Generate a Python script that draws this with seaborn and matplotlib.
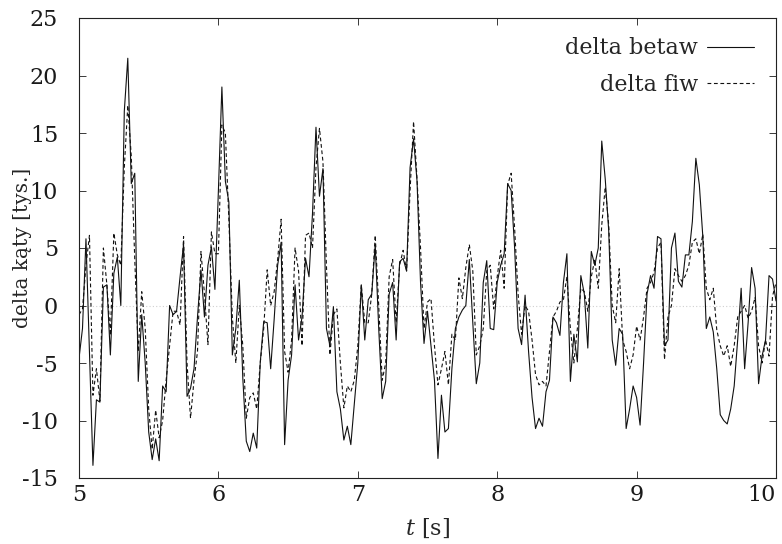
import numpy as np
import pandas as pd
import matplotlib
matplotlib.use("Agg")
import matplotlib.pyplot as plt
import seaborn as sns
from matplotlib.lines import Line2D

# time axis: 5 s .. 10 s sampled every 0.025 s
t = np.linspace(5.0, 10.0, 201)

delta_betaw = [
    -4.6, -2.0, 5.8, -4.0, -13.9, -8.2, -8.4, 1.6, 1.8, -4.3,
    2.8, 4.2, 0.0, 16.9, 21.5, 10.6, 11.5, -6.6, -0.8, -5.0,
    -11.0, -13.4, -11.6, -13.5, -7.0, -7.5, 0.0, -0.8, -0.5, 2.5,
    5.3, -7.9, -7.2, -5.5, -1.0, 3.1, -1.0, 3.5, 5.1, 1.4,
    10.0, 19.0, 10.8, 9.0, -4.3, -2.0, 2.2, -6.3, -11.8, -12.7,
    -11.1, -12.4, -5.0, -1.4, -1.5, -5.5, -1.2, 3.5, 5.5, -12.1,
    -6.5, -4.3, 1.8, -3.0, -1.0, 4.1, 2.5, 8.0, 15.5, 9.5,
    11.9, -2.0, -3.5, -0.1, -7.5, -9.0, -11.7, -10.5, -12.1, -8.5,
    -5.0, 1.8, -3.0, 0.5, 1.0, 5.3, -2.0, -8.1, -6.6, 1.0,
    2.0, -3.0, 3.8, 4.1, 3.0, 12.0, 14.5, 10.8, 2.0, -3.3,
    -0.5, -3.5, -6.5, -13.3, -7.8, -11.0, -10.7, -5.5, -2.0, -1.0,
    -0.4, 0.0, 4.0, -1.5, -6.8, -5.0, 2.0, 3.9, -2.0, -2.1,
    2.0, 3.5, 4.5, 10.6, 10.0, 5.0, -2.0, -3.4, 0.9, -4.0,
    -8.0, -10.7, -9.8, -10.5, -7.5, -6.5, -1.0, -1.5, -2.6, 2.0,
    4.5, -6.6, -2.5, -4.9, 2.6, 1.0, -3.7, 4.7, 3.5, 5.0,
    14.3, 11.0, 6.5, -3.0, -5.2, -2.0, -2.5, -10.7, -9.0, -7.0,
    -8.0, -10.4, -5.0, 1.0, 2.6, 1.5, 6.0, 5.8, -3.5, -3.0,
    5.0, 6.3, 2.1, 1.6, 4.4, 4.4, 7.3, 12.8, 10.5, 6.0,
    -2.0, -1.0, -2.3, -5.5, -9.5, -10.0, -10.3, -9.0, -7.0, -3.0,
    1.5, -5.5, -1.5, 3.3, 1.5, -6.8, -4.4, -3.0, 2.6, 2.3,
    0.4,
]

delta_fiw = [
    -0.8, -0.3, 3.5, 6.1, -7.8, -5.5, -8.3, 5.0, 1.8, -2.6,
    6.3, 4.4, 3.5, 12.0, 17.4, 13.0, 4.0, -4.0, 1.2, -2.0,
    -9.0, -12.5, -9.1, -11.5, -10.0, -6.5, -3.5, -0.5, -0.5, -1.7,
    6.0, -5.0, -9.8, -6.5, -4.0, 4.7, 1.0, -3.4, 6.4, 4.5,
    4.5, 15.7, 15.0, 7.5, -1.0, -5.0, 0.0, -3.5, -9.8, -8.0,
    -7.6, -9.0, -5.0, -2.0, 3.1, 0.0, 1.2, 4.0, 7.5, -4.0,
    -5.8, -3.0, 5.0, 3.0, -3.5, 6.1, 6.3, 5.0, 12.0, 15.4,
    12.5, 3.5, -4.3, -0.8, -0.3, -5.0, -8.9, -7.0, -7.5, -6.5,
    -3.5, 1.8, -1.5, -1.5, 1.0, 6.1, 0.0, -6.5, -5.0, 2.5,
    4.0, -1.5, 3.5, 4.8, 3.0, 10.0, 16.0, 11.0, 5.0, -2.0,
    0.3, 0.6, -3.5, -6.9, -5.5, -4.0, -6.9, -2.5, -3.0, 2.4,
    0.6, 3.3, 5.3, 3.0, -4.3, -3.5, -2.0, 3.0, 3.5, -0.3,
    2.5, 4.8, 1.5, 10.5, 11.5, 6.7, 1.0, -2.5, 0.0, -0.5,
    -3.0, -6.0, -6.9, -6.6, -7.0, -4.0, -1.0, -0.5, 0.3, 0.5,
    2.5, -2.0, -5.0, -2.0, 1.5, 1.2, -0.5, 2.5, 4.0, 1.5,
    7.0, 10.3, 7.0, 0.0, -1.5, 3.2, -3.0, -4.0, -5.5, -4.3,
    -1.8, -3.0, -1.0, 1.5, 2.0, 2.9, 5.0, 5.5, -4.7, -1.0,
    0.0, 3.2, 2.6, 2.1, 2.6, 3.5, 5.5, 5.8, 4.5, 6.2,
    1.5, 0.5, 1.5, -2.1, -3.5, -4.4, -3.5, -5.3, -3.5, -1.0,
    -0.5, 0.0, -1.1, -0.5, 0.7, -3.5, -5.0, -3.0, -4.4, 0.8,
    2.0,
]

labels = ["delta betaw", "delta fiw"]
x_ticks = [5, 6, 7, 8, 9, 10]
y_ticks = [-15, -10, -5, 0, 5, 10, 15, 20, 25]

df = pd.DataFrame({
    "t": np.concatenate([t, t]),
    "value": delta_betaw + delta_fiw,
    "series": [labels[0]] * len(t) + [labels[1]] * len(t),
})

sns.set_style("ticks")
plt.rcParams["font.family"] = ["DejaVu Serif"]
plt.rcParams["mathtext.fontset"] = "dejavuserif"
plt.rcParams["font.size"] = 16

fig = plt.figure(figsize=(7.82, 5.44), dpi=100)
ax = fig.add_axes([79 / 782, 1 - 478 / 544, (776 - 79) / 782, (478 - 18) / 544])

# faint zero line
ax.axhline(0, color="#d0d0d0", lw=0.8, ls=(0, (1, 2)), zorder=0)

dash = (3.4, 2.4)
sns.lineplot(data=df, x="t", y="value", hue="series", style="series",
             palette=["#111111", "#111111"], dashes={labels[0]: "", labels[1]: dash},
             lw=0.8, legend=False, ax=ax, sort=False, estimator=None)

ax.set_xlim(5, 10)
ax.set_ylim(-15, 25)
ax.set_xticks(x_ticks)
ax.set_xticklabels([str(v) for v in x_ticks])
ax.set_yticks(y_ticks)
ax.set_yticklabels([str(v) for v in y_ticks])
ax.tick_params(direction="in", length=5, width=0.6, top=True, right=True,
               labelsize=16, colors="#1a1a1a")
ax.tick_params(axis="y", pad=15)
ax.tick_params(axis="x", pad=4)
# keep the last x label inside the figure
ax.get_xticklabels()[-1].set_horizontalalignment("right")
for s in ax.spines.values():
    s.set_linewidth(0.8)
    s.set_color("#222222")

ax.set_xlabel("$t$ [s]", fontsize=16)
ax.xaxis.set_label_coords(0.5, -0.085)
ax.set_ylabel("delta kąty [tys.]", fontsize=14.5)
ax.yaxis.set_label_coords(-0.068, 0.5)

handles = [Line2D([], [], color="#111111", lw=0.8),
           Line2D([], [], color="#111111", lw=0.8, ls=(0, dash))]
ax.legend(handles, labels, loc="upper right", bbox_to_anchor=(0.968, 0.958),
          frameon=False, markerfirst=False, handlelength=2.1, handletextpad=0.4,
          labelspacing=0.65, borderaxespad=0, borderpad=0, fontsize=16)

fig.savefig("out.png", dpi=100)
